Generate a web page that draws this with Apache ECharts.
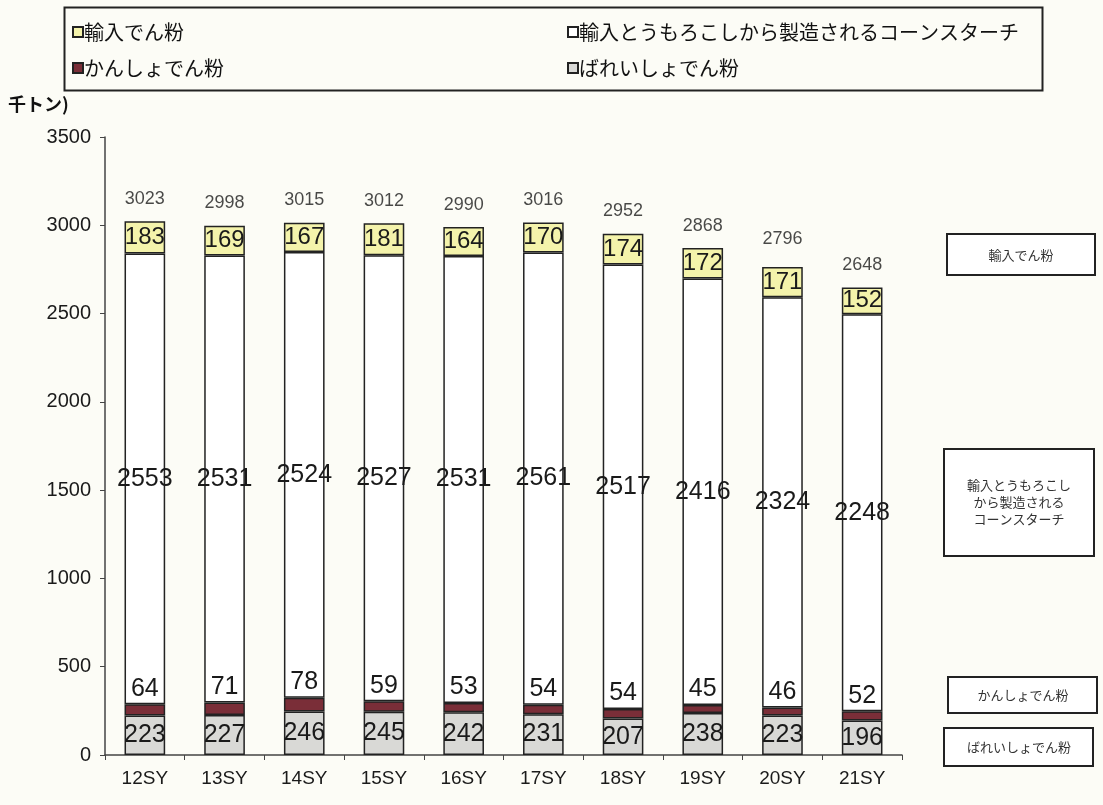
<!DOCTYPE html>
<html>
<head>
<meta charset="utf-8">
<script src="https://cdn.jsdelivr.net/npm/echarts@6/dist/echarts.min.js"></script>
<style>
  html, body { margin: 0; padding: 0; background: #fcfcf6; }
  #chart { width: 1103px; height: 805px; }
</style>
</head>
<body>
<div id="chart"></div>
<script>
// Starch supply by source, thousand tonnes per starch year
const categories = ['12SY', '13SY', '14SY', '15SY', '16SY', '17SY', '18SY', '19SY', '20SY', '21SY'];
const potatoStarch = [223, 227, 246, 245, 242, 231, 207, 238, 223, 196];
const sweetPotatoStarch = [64, 71, 78, 59, 53, 54, 54, 45, 46, 52];
const cornStarch = [2553, 2531, 2524, 2527, 2531, 2561, 2517, 2416, 2324, 2248];
const importedStarch = [183, 169, 167, 181, 164, 170, 174, 172, 171, 152];
const totals = [3023, 2998, 3015, 3012, 2990, 3016, 2952, 2868, 2796, 2648];
const yTicks = { min: 0, max: 3500, interval: 500 };

const names = {
  imported: '輸入でん粉',
  corn: '輸入とうもろこしから製造されるコーンスターチ',
  sweet: 'かんしょでん粉',
  potato: 'ばれいしょでん粉'
};

const NUM_FONT = '"Liberation Sans", Arial, sans-serif';
const JP_FONT = '"Noto Sans CJK JP", sans-serif';
const OUTLINE = '#222';

function segLabel(size, position, distance) {
  return {
    show: true,
    position: position,
    distance: distance || 0,
    color: '#1a1a1a',
    fontFamily: NUM_FONT,
    fontSize: size
  };
}

const legendText = { fontFamily: JP_FONT, fontSize: 20, color: '#111', padding: [0, 0, 0, -4] };

const chart = echarts.init(document.getElementById('chart'));

chart.setOption({
  backgroundColor: '#fcfcf6',
  animation: false,
  grid: { left: 105, right: 201, top: 137, bottom: 50 },
  legend: [
    {
      orient: 'vertical', left: 67, top: 17, itemGap: 16,
      icon: 'rect', itemWidth: 10, itemHeight: 10,
      textStyle: legendText,
      data: [names.imported, names.sweet]
    },
    {
      orient: 'vertical', left: 562, top: 17, itemGap: 16,
      icon: 'rect', itemWidth: 10, itemHeight: 10,
      textStyle: legendText,
      data: [names.corn, names.potato]
    }
  ],
  xAxis: {
    type: 'category',
    data: categories,
    axisLine: { lineStyle: { color: '#444', width: 1.5 } },
    axisTick: { show: true, length: 5, lineStyle: { color: '#444' } },
    axisLabel: { color: '#1a1a1a', fontFamily: NUM_FONT, fontSize: 19, margin: 14 }
  },
  yAxis: {
    type: 'value',
    min: yTicks.min, max: yTicks.max, interval: yTicks.interval,
    splitLine: { show: false },
    axisLine: { show: true, lineStyle: { color: '#444', width: 1.5 } },
    axisTick: { show: true, length: 5, lineStyle: { color: '#444' } },
    axisLabel: {
      color: '#1a1a1a', fontFamily: NUM_FONT, fontSize: 20, margin: 14,
      formatter: function (v) { return String(v); }
    }
  },
  series: [
    {
      name: names.potato, type: 'bar', stack: 'supply', barWidth: '51%',
      data: potatoStarch,
      itemStyle: { color: '#d9d9d6', borderColor: OUTLINE, borderWidth: 1.5 },
      label: segLabel(25, 'inside')
    },
    {
      name: names.sweet, type: 'bar', stack: 'supply',
      data: sweetPotatoStarch,
      itemStyle: { color: '#7a2e38', borderColor: OUTLINE, borderWidth: 1.5 },
      label: segLabel(25, 'top', 3)
    },
    {
      name: names.corn, type: 'bar', stack: 'supply',
      data: cornStarch,
      itemStyle: { color: '#ffffff', borderColor: OUTLINE, borderWidth: 1.5 },
      label: segLabel(25, 'inside')
    },
    {
      name: names.imported, type: 'bar', stack: 'supply',
      data: importedStarch,
      itemStyle: { color: '#f4f3ab', borderColor: OUTLINE, borderWidth: 1.5 },
      label: segLabel(24, 'inside')
    },
    {
      name: 'total', type: 'scatter',
      data: totals,
      symbolSize: 1,
      itemStyle: { color: 'rgba(0,0,0,0)' },
      label: {
        show: true, position: 'top', distance: 13,
        color: '#1a1a1a', fontFamily: NUM_FONT, fontSize: 18
      },
      tooltip: { show: false }
    }
  ],
  graphic: [
    // frame round the legend
    {
      type: 'rect', left: 62, top: 5,
      shape: { width: 978, height: 83 },
      style: { fill: 'none', stroke: '#222', lineWidth: 2 }
    },
    // unit label
    {
      type: 'text', left: 8, top: 95,
      style: { text: '千トン)', fontFamily: JP_FONT, fontSize: 18, fontWeight: 'bold', fill: '#111' }
    },
    // side tags naming each layer
    {
      type: 'group', left: 946, top: 233,
      children: [
        { type: 'rect', shape: { width: 148, height: 41 }, style: { fill: '#fff', stroke: '#222', lineWidth: 2 } },
        { type: 'text', x: 74, y: 21, style: { text: names.imported, fontFamily: JP_FONT, fontSize: 13, fill: '#333', align: 'center', verticalAlign: 'middle' } }
      ]
    },
    {
      type: 'group', left: 943, top: 448,
      children: [
        { type: 'rect', shape: { width: 150, height: 107 }, style: { fill: '#fff', stroke: '#222', lineWidth: 2 } },
        { type: 'text', x: 75, y: 53, style: { text: '輸入とうもろこし\nから製造される\nコーンスターチ', lineHeight: 17, fontFamily: JP_FONT, fontSize: 13, fill: '#333', align: 'center', verticalAlign: 'middle' } }
      ]
    },
    {
      type: 'group', left: 947, top: 676,
      children: [
        { type: 'rect', shape: { width: 149, height: 36 }, style: { fill: '#fff', stroke: '#222', lineWidth: 2 } },
        { type: 'text', x: 75, y: 18, style: { text: names.sweet, fontFamily: JP_FONT, fontSize: 13, fill: '#333', align: 'center', verticalAlign: 'middle' } }
      ]
    },
    {
      type: 'group', left: 943, top: 727,
      children: [
        { type: 'rect', shape: { width: 149, height: 38 }, style: { fill: '#fff', stroke: '#222', lineWidth: 2 } },
        { type: 'text', x: 75, y: 19, style: { text: names.potato, fontFamily: JP_FONT, fontSize: 13, fill: '#333', align: 'center', verticalAlign: 'middle' } }
      ]
    }
  ]
});
</script>
</body>
</html>
